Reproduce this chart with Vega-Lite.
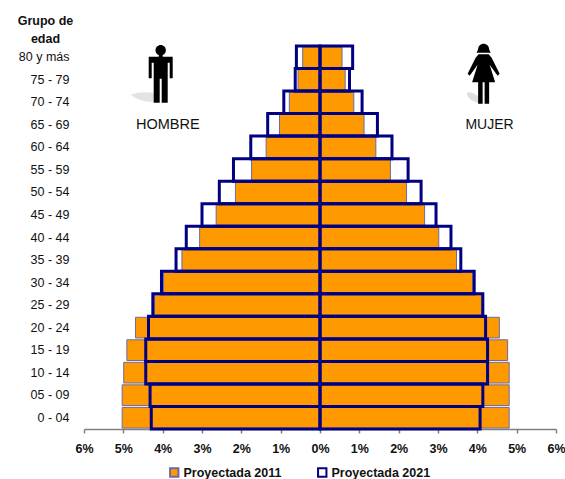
{"$schema":"https://vega.github.io/schema/vega-lite/v6.json","autosize":"none","padding":{"left":84,"top":46,"right":9,"bottom":50},"width":472,"height":383,"background":"white","config":{"view":{"stroke":null},"font":"Liberation Sans"},
"datasets":{"pop":[
{"edad":"80 y más","sexo":"H","serie":"Proyectada 2011","valor":-0.44},{"edad":"80 y más","sexo":"M","serie":"Proyectada 2011","valor":0.56},
{"edad":"75 - 79","sexo":"H","serie":"Proyectada 2011","valor":-0.56},{"edad":"75 - 79","sexo":"M","serie":"Proyectada 2011","valor":0.64},
{"edad":"70 - 74","sexo":"H","serie":"Proyectada 2011","valor":-0.78},{"edad":"70 - 74","sexo":"M","serie":"Proyectada 2011","valor":0.86},
{"edad":"65 - 69","sexo":"H","serie":"Proyectada 2011","valor":-1.03},{"edad":"65 - 69","sexo":"M","serie":"Proyectada 2011","valor":1.12},
{"edad":"60 - 64","sexo":"H","serie":"Proyectada 2011","valor":-1.37},{"edad":"60 - 64","sexo":"M","serie":"Proyectada 2011","valor":1.42},
{"edad":"55 - 59","sexo":"H","serie":"Proyectada 2011","valor":-1.74},{"edad":"55 - 59","sexo":"M","serie":"Proyectada 2011","valor":1.79},
{"edad":"50 - 54","sexo":"H","serie":"Proyectada 2011","valor":-2.15},{"edad":"50 - 54","sexo":"M","serie":"Proyectada 2011","valor":2.2},
{"edad":"45 - 49","sexo":"H","serie":"Proyectada 2011","valor":-2.64},{"edad":"45 - 49","sexo":"M","serie":"Proyectada 2011","valor":2.66},
{"edad":"40 - 44","sexo":"H","serie":"Proyectada 2011","valor":-3.06},{"edad":"40 - 44","sexo":"M","serie":"Proyectada 2011","valor":3.02},
{"edad":"35 - 39","sexo":"H","serie":"Proyectada 2011","valor":-3.51},{"edad":"35 - 39","sexo":"M","serie":"Proyectada 2011","valor":3.47},
{"edad":"30 - 34","sexo":"H","serie":"Proyectada 2011","valor":-3.98},{"edad":"30 - 34","sexo":"M","serie":"Proyectada 2011","valor":3.88},
{"edad":"25 - 29","sexo":"H","serie":"Proyectada 2011","valor":-4.21},{"edad":"25 - 29","sexo":"M","serie":"Proyectada 2011","valor":4.11},
{"edad":"20 - 24","sexo":"H","serie":"Proyectada 2011","valor":-4.69},{"edad":"20 - 24","sexo":"M","serie":"Proyectada 2011","valor":4.56},
{"edad":"15 - 19","sexo":"H","serie":"Proyectada 2011","valor":-4.91},{"edad":"15 - 19","sexo":"M","serie":"Proyectada 2011","valor":4.77},
{"edad":"10 - 14","sexo":"H","serie":"Proyectada 2011","valor":-4.99},{"edad":"10 - 14","sexo":"M","serie":"Proyectada 2011","valor":4.81},
{"edad":"05 - 09","sexo":"H","serie":"Proyectada 2011","valor":-5.03},{"edad":"05 - 09","sexo":"M","serie":"Proyectada 2011","valor":4.81},
{"edad":"0 - 04","sexo":"H","serie":"Proyectada 2011","valor":-5.03},{"edad":"0 - 04","sexo":"M","serie":"Proyectada 2011","valor":4.81},
{"edad":"80 y más","sexo":"H","serie":"Proyectada 2021","valor":-0.6},{"edad":"80 y más","sexo":"M","serie":"Proyectada 2021","valor":0.83},
{"edad":"75 - 79","sexo":"H","serie":"Proyectada 2021","valor":-0.63},{"edad":"75 - 79","sexo":"M","serie":"Proyectada 2021","valor":0.75},
{"edad":"70 - 74","sexo":"H","serie":"Proyectada 2021","valor":-0.92},{"edad":"70 - 74","sexo":"M","serie":"Proyectada 2021","valor":1.07},
{"edad":"65 - 69","sexo":"H","serie":"Proyectada 2021","valor":-1.33},{"edad":"65 - 69","sexo":"M","serie":"Proyectada 2021","valor":1.46},
{"edad":"60 - 64","sexo":"H","serie":"Proyectada 2021","valor":-1.76},{"edad":"60 - 64","sexo":"M","serie":"Proyectada 2021","valor":1.83},
{"edad":"55 - 59","sexo":"H","serie":"Proyectada 2021","valor":-2.2},{"edad":"55 - 59","sexo":"M","serie":"Proyectada 2021","valor":2.24},
{"edad":"50 - 54","sexo":"H","serie":"Proyectada 2021","valor":-2.56},{"edad":"50 - 54","sexo":"M","serie":"Proyectada 2021","valor":2.57},
{"edad":"45 - 49","sexo":"H","serie":"Proyectada 2021","valor":-3.0},{"edad":"45 - 49","sexo":"M","serie":"Proyectada 2021","valor":2.95},
{"edad":"40 - 44","sexo":"H","serie":"Proyectada 2021","valor":-3.4},{"edad":"40 - 44","sexo":"M","serie":"Proyectada 2021","valor":3.33},
{"edad":"35 - 39","sexo":"H","serie":"Proyectada 2021","valor":-3.66},{"edad":"35 - 39","sexo":"M","serie":"Proyectada 2021","valor":3.58},
{"edad":"30 - 34","sexo":"H","serie":"Proyectada 2021","valor":-4.03},{"edad":"30 - 34","sexo":"M","serie":"Proyectada 2021","valor":3.92},
{"edad":"25 - 29","sexo":"H","serie":"Proyectada 2021","valor":-4.25},{"edad":"25 - 29","sexo":"M","serie":"Proyectada 2021","valor":4.14},
{"edad":"20 - 24","sexo":"H","serie":"Proyectada 2021","valor":-4.36},{"edad":"20 - 24","sexo":"M","serie":"Proyectada 2021","valor":4.21},
{"edad":"15 - 19","sexo":"H","serie":"Proyectada 2021","valor":-4.43},{"edad":"15 - 19","sexo":"M","serie":"Proyectada 2021","valor":4.26},
{"edad":"10 - 14","sexo":"H","serie":"Proyectada 2021","valor":-4.43},{"edad":"10 - 14","sexo":"M","serie":"Proyectada 2021","valor":4.26},
{"edad":"05 - 09","sexo":"H","serie":"Proyectada 2021","valor":-4.32},{"edad":"05 - 09","sexo":"M","serie":"Proyectada 2021","valor":4.14},
{"edad":"0 - 04","sexo":"H","serie":"Proyectada 2021","valor":-4.29},{"edad":"0 - 04","sexo":"M","serie":"Proyectada 2021","valor":4.07}
]},
"data":{"name":"pop"},
"encoding":{
"y":{"field":"edad","type":"nominal","sort":null,"scale":{"domain":["80 y más","75 - 79","70 - 74","65 - 69","60 - 64","55 - 59","50 - 54","45 - 49","40 - 44","35 - 39","30 - 34","25 - 29","20 - 24","15 - 19","10 - 14","05 - 09","0 - 04"],"paddingInner":0,"paddingOuter":0},
"axis":{"title":["Grupo de","edad"],"titleAngle":0,"titleX":-39,"titleY":-26,"titleAlign":"center","titleBaseline":"middle","titleFont":"Liberation Sans","titleFontWeight":"bold","titleFontSize":12.5,"titleLineHeight":18,"titleColor":"#111111","domain":false,"ticks":false,"labelPadding":15,"labelFont":"Liberation Sans","labelFontSize":12.5,"labelColor":"#111111"}},
"x":{"field":"valor","type":"quantitative","stack":null,"scale":{"domain":[-6,6],"nice":false},
"axis":{"title":null,"values":[-6,-5,-4,-3,-2,-1,0,1,2,3,4,5,6],"grid":false,"labelFlush":false,"domainColor":"#808080","domainWidth":1.5,"tickColor":"#808080","tickSize":4,"tickWidth":1.5,"labelExpr":"abs(datum.value)+'%'","labelFont":"Liberation Sans","labelFontWeight":"bold","labelFontSize":12.5,"labelColor":"#111111","labelPadding":9}}
},
"layer":[
{"transform":[{"filter":"datum.serie==='Proyectada 2011'"}],"mark":{"type":"bar","height":{"band":0.92},"strokeWidth":1},"encoding":{
"fill":{"field":"serie","type":"nominal","scale":{"domain":["Proyectada 2011","Proyectada 2021"],"range":["#ff9900","transparent"]},
"legend":{"title":null,"orient":"none","direction":"horizontal","legendX":84,"legendY":420,"symbolType":"square","symbolSize":70,"symbolOpacity":1,"symbolStrokeWidth":2,"labelFont":"Liberation Sans","labelFontWeight":"bold","labelFontSize":12.5,"labelColor":"#111111","columnPadding":32,"labelOffset":3}},
"stroke":{"field":"serie","type":"nominal","scale":{"domain":["Proyectada 2011","Proyectada 2021"],"range":["#6a6aa8","#000080"]},"legend":null}}},
{"transform":[{"filter":"datum.serie==='Proyectada 2021'"}],"mark":{"type":"bar","height":{"band":1},"strokeWidth":3},"encoding":{
"fill":{"field":"serie","type":"nominal"},"stroke":{"field":"serie","type":"nominal"}}},
{"data":{"values":[{"etiqueta":"HOMBRE","edad":"65 - 69","valor":-3.87}]},"mark":{"type":"text","font":"Liberation Sans","fontSize":14.5,"color":"#111111"},"encoding":{"text":{"field":"etiqueta"}}},
{"data":{"values":[{"etiqueta":"MUJER","edad":"65 - 69","valor":4.31}]},"mark":{"type":"text","font":"Liberation Sans","fontSize":14,"color":"#111111"},"encoding":{"text":{"field":"etiqueta"}}},
{"data":{"values":[{"figura":"sombra hombre","edad":"75 - 79","valor":-4.05}]},"mark":{"type":"point","filled":true,"size":4,"opacity":0.22,"color":"#808080","strokeWidth":0,"shape":"M-30,15 C-24,12 -14,12 -7,13 L-7,22 C-14,23 -24,20 -30,15 Z"}},
{"data":{"values":[{"figura":"hombre","edad":"75 - 79","valor":-4.05}]},"mark":{"type":"point","filled":true,"size":4,"opacity":1,"color":"#000000","strokeWidth":0,"shape":"M-5.2,-29.5 A5.2,5.2 0 1,1 5.2,-29.5 A5.2,5.2 0 1,1 -5.2,-29.5 Z M-2,-25 L2,-25 L2,-23 L12,-23 L12,-1.5 L9,-1.5 L9,-17 L7,-17 L7,23 L1,23 L1,-1 L-1,-1 L-1,23 L-7,23 L-7,-17 L-9,-17 L-9,-1.5 L-12,-1.5 L-12,-23 L-2,-23 Z"}},
{"data":{"values":[{"figura":"sombra mujer","edad":"75 - 79","valor":4.16}]},"mark":{"type":"point","filled":true,"size":4,"opacity":0.25,"color":"#808080","strokeWidth":0,"shape":"M-17,13 C-13,11 -8,14 -5,17 L-5,23 C-11,22 -17,18 -17,13 Z"}},
{"data":{"values":[{"figura":"mujer","edad":"75 - 79","valor":4.16}]},"mark":{"type":"point","filled":true,"size":4,"opacity":1,"color":"#000000","strokeWidth":0,"shape":"M-5.5,-30.5 A5.5,5.5 0 1,1 5.5,-30.5 L7,-27 L-7,-27 Z M-5,-25.5 L5,-25.5 L8,-22 L16,-6 L14,-4 L6,-15 L11.5,2.5 L5.5,2.5 L5.5,24 L1,24 L1,2.5 L-1,2.5 L-1,24 L-5.5,24 L-5.5,2.5 L-11.5,2.5 L-6,-15 L-14,-4 L-16,-6 L-8,-22 Z"}}
]}
